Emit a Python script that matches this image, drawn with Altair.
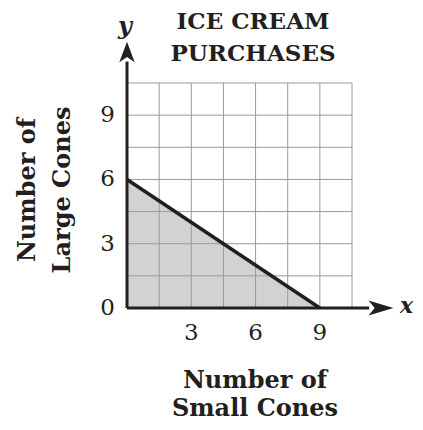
import altair as alt
import pandas as pd

# Data
boundary_x = [0, 9]
boundary_y = [6, 0]
grid_values = [0, 1.5, 3, 4.5, 6, 7.5, 9, 10.5]
x_tick_labels = [3, 6, 9]
y_tick_labels = [0, 3, 6, 9]
axis_max = 10.5
x_axis_end = 11.3
y_axis_end = 11.5
x_arrow_pos = 11.85
y_arrow_pos = 11.95
title_text = "ICE CREAM\nPURCHASES"
x_title = "Number of\nSmall Cones"
y_title = "Number of\nLarge Cones"

FONT = "DejaVu Serif"
INK = "#231f20"

xs = alt.Scale(domain=[0, axis_max], nice=False, zero=False)
ys = alt.Scale(domain=[0, axis_max], nice=False, zero=False)


def XD(v):
    return alt.XDatum(v, type="quantitative", axis=None)


def YD(v):
    return alt.YDatum(v, type="quantitative", axis=None)


bdf = pd.DataFrame({"x": boundary_x, "y": boundary_y})
gdf = pd.DataFrame({"g": grid_values})
xtdf = pd.DataFrame({"v": x_tick_labels})
ytdf = pd.DataFrame({"v": y_tick_labels})
one = pd.DataFrame({"a": [0]})

area = alt.Chart(bdf).mark_area(color="#d1d2d4", opacity=1).encode(
    x=alt.X("x:Q", scale=xs, axis=None),
    y=alt.Y("y:Q", scale=ys, axis=None),
)

vgrid = alt.Chart(gdf).mark_rule(color="#9a9a9a", strokeWidth=1).encode(
    x=alt.X("g:Q", axis=None),
    y=YD(0),
    y2=alt.Y2Datum(axis_max),
)
hgrid = alt.Chart(gdf).mark_rule(color="#9a9a9a", strokeWidth=1).encode(
    y=alt.Y("g:Q", axis=None),
    x=XD(0),
    x2=alt.X2Datum(axis_max),
)

yaxis_line = alt.Chart(one).mark_rule(color=INK, strokeWidth=3).encode(
    x=XD(0), y=YD(0), y2=alt.Y2Datum(y_axis_end))
xaxis_line = alt.Chart(one).mark_rule(color=INK, strokeWidth=3).encode(
    y=YD(0), x=XD(0), x2=alt.X2Datum(x_axis_end))

up_arrow = alt.Chart(one).mark_point(
    shape="M0,-1L0.75,1L0,0.5L-0.75,1Z", filled=True, size=420,
    color=INK, opacity=1, strokeWidth=0).encode(
    x=XD(0), y=YD(y_arrow_pos))
right_arrow = alt.Chart(one).mark_point(
    shape="M1,0L-1,-0.6L-0.5,0L-1,0.6Z", filled=True, size=625,
    color=INK, opacity=1, strokeWidth=0).encode(
    x=XD(x_arrow_pos), y=YD(0))

line = alt.Chart(bdf).mark_line(color=INK, strokeWidth=3.5).encode(
    x=alt.X("x:Q", axis=None), y=alt.Y("y:Q", axis=None))

# tick labels
xticks = alt.Chart(xtdf).mark_text(
    font=FONT, fontSize=23, color=INK, align="center", baseline="middle",
    dy=25).encode(x=alt.X("v:Q", axis=None), y=YD(0), text="v:Q")
yticks = alt.Chart(ytdf).mark_text(
    font=FONT, fontSize=23, color=INK, align="right", baseline="middle",
    dx=-12).encode(y=alt.Y("v:Q", axis=None), x=XD(0), text="v:Q")

# axis titles and chart title
ytitle = alt.Chart(pd.DataFrame({"t": [y_title]})).mark_text(
    font=FONT, fontSize=24, fontWeight="bold", color=INK, align="center",
    baseline="middle", angle=270, lineBreak="\n", lineHeight=35).encode(
    x=alt.value(-99), y=alt.value(107), text="t:N")
xtitle = alt.Chart(pd.DataFrame({"t": [x_title]})).mark_text(
    font=FONT, fontSize=24, fontWeight="bold", color=INK, align="center",
    baseline="middle", lineBreak="\n", lineHeight=28).encode(
    x=alt.value(128), y=alt.value(298), text="t:N")
ctitle = alt.Chart(pd.DataFrame({"t": [title_text]})).mark_text(
    font=FONT, fontSize=23, fontWeight="bold", color=INK, align="center",
    baseline="middle", lineBreak="\n", lineHeight=32).encode(
    x=alt.value(126), y=alt.value(-61), text="t:N")

ylab = alt.Chart(pd.DataFrame({"t": ["y"]})).mark_text(
    font=FONT, fontSize=24, fontStyle="italic", fontWeight="bold",
    color=INK, align="center", baseline="middle").encode(
    x=XD(-0.1), y=YD(13.1), text="t:N")
xlab = alt.Chart(pd.DataFrame({"t": ["x"]})).mark_text(
    font=FONT, fontSize=22, fontStyle="italic", fontWeight="bold",
    color=INK, align="center", baseline="middle").encode(
    x=XD(13.05), y=YD(0.1), text="t:N")

chart = alt.layer(
    area, vgrid, hgrid, line, yaxis_line, xaxis_line, up_arrow, right_arrow,
    xticks, yticks, ytitle, xtitle, ctitle, ylab, xlab,
).properties(
    width=225, height=225,
    autosize=alt.AutoSizeParams(type="none"),
    padding={"left": 119, "top": 75, "right": 62, "bottom": 113},
).configure_view(stroke=None)

chart.save("out.html", embed_options={"renderer": "svg", "actions": False})
